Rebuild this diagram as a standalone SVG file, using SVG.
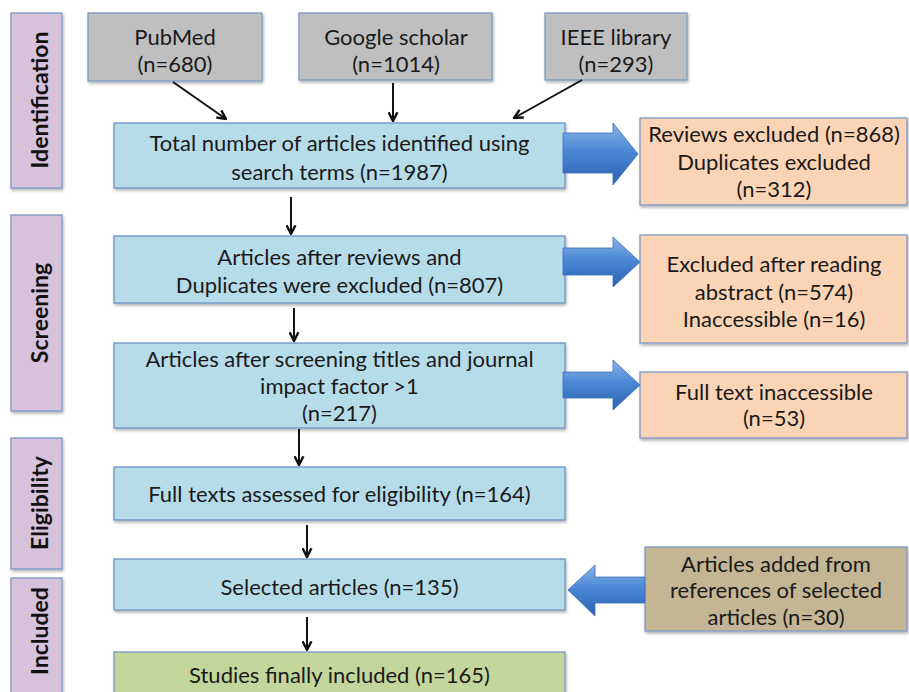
<svg xmlns="http://www.w3.org/2000/svg" width="909" height="692" viewBox="0 0 909 692">
  <defs>
    <style>
      .t { font-family: Lato, "Liberation Sans", sans-serif; font-size: 22px; fill: #1a1a1a; text-anchor: middle; }
      .side { font-family: Lato, "Liberation Sans", sans-serif; font-size: 23px; font-weight: bold; fill: #111; text-anchor: middle; }
      .box { stroke-width: 1.3; filter: url(#shadow); }
      .phase { fill: #d6c2da; stroke: #7b97c6; }
      .src { fill: #bfbfbf; stroke: #7f97c6; }
      .step { fill: #b7dce9; stroke: #6b93c4; }
      .excl { fill: #fbd4b6; stroke: #7f97c6; }
      .added { fill: #c4b694; stroke: #7f97c6; }
      .final { fill: #c3d69b; stroke: #7f97c6; }
      .link { fill: none; stroke: #111; stroke-width: 2; marker-end: url(#head); }
      .big { fill: url(#blueGrad); stroke: #3b6fb8; stroke-width: 0.8; }
    </style>
    <filter id="shadow" x="-5%" y="-5%" width="115%" height="125%">
      <feDropShadow dx="1" dy="2" stdDeviation="1.5" flood-color="#000" flood-opacity="0.3"/>
    </filter>
    <linearGradient id="blueGrad" x1="0" y1="0" x2="0" y2="1">
      <stop offset="0" stop-color="#8ab4e6"/>
      <stop offset="0.45" stop-color="#4a88d4"/>
      <stop offset="1" stop-color="#2a63b3"/>
    </linearGradient>
    <marker id="head" viewBox="0 0 10 10" refX="9" refY="5" markerWidth="5.5" markerHeight="5.5" orient="auto" markerUnits="strokeWidth">
      <path d="M1,1 L9,5 L1,9" fill="none" stroke="#111" stroke-width="2.2"/>
    </marker>
  </defs>

  <!-- phase labels -->
  <g id="phase-identification">
    <rect class="box phase" x="11" y="13" width="51" height="175"/>
    <text class="side" transform="translate(48,100) rotate(-90)">Identification</text>
  </g>
  <g id="phase-screening">
    <rect class="box phase" x="11" y="215" width="51" height="196"/>
    <text class="side" transform="translate(48,313) rotate(-90)">Screening</text>
  </g>
  <g id="phase-eligibility">
    <rect class="box phase" x="11" y="438" width="51" height="131"/>
    <text class="side" transform="translate(48,503) rotate(-90)">Eligibility</text>
  </g>
  <g id="phase-included">
    <rect class="box phase" x="11" y="578" width="51" height="130"/>
    <text class="side" transform="translate(48,631) rotate(-90)">Included</text>
  </g>

  <!-- sources -->
  <g id="src-pubmed">
    <rect class="box src" x="88" y="13" width="174" height="68"/>
    <text class="t" x="175" y="45">PubMed</text>
    <text class="t" x="175" y="72">(n=680)</text>
  </g>
  <g id="src-google">
    <rect class="box src" x="299" y="13" width="193" height="67"/>
    <text class="t" x="396" y="45">Google scholar</text>
    <text class="t" x="396" y="72">(n=1014)</text>
  </g>
  <g id="src-ieee">
    <rect class="box src" x="545" y="13" width="142" height="67"/>
    <text class="t" x="616" y="45">IEEE library</text>
    <text class="t" x="616" y="72">(n=293)</text>
  </g>

  <!-- main flow -->
  <g id="total">
    <rect class="box step" x="114" y="123" width="451" height="65"/>
    <text class="t" x="339.5" y="151">Total number of articles identified using</text>
    <text class="t" x="339.5" y="180">search terms (n=1987)</text>
  </g>
  <g id="after-reviews">
    <rect class="box step" x="114" y="236" width="451" height="67"/>
    <text class="t" x="339.5" y="265">Articles after reviews and</text>
    <text class="t" x="339.5" y="293">Duplicates were excluded (n=807)</text>
  </g>
  <g id="after-screening">
    <rect class="box step" x="114" y="343" width="451" height="85"/>
    <text class="t" x="339.5" y="367">Articles after screening titles and journal</text>
    <text class="t" x="339.5" y="394">impact factor &gt;1</text>
    <text class="t" x="339.5" y="421">(n=217)</text>
  </g>
  <g id="full-texts">
    <rect class="box step" x="114" y="467" width="451" height="53"/>
    <text class="t" x="339.5" y="502">Full texts assessed for eligibility (n=164)</text>
  </g>
  <g id="selected">
    <rect class="box step" x="114" y="559" width="451" height="51"/>
    <text class="t" x="339.5" y="595">Selected articles (n=135)</text>
  </g>
  <g id="final">
    <rect class="box final" x="114" y="652" width="451" height="50"/>
    <text class="t" x="339.5" y="683">Studies finally included (n=165)</text>
  </g>

  <!-- side boxes -->
  <g id="excluded-reviews">
    <rect class="box excl" x="640" y="118" width="267" height="87"/>
    <text class="t" x="774" y="142">Reviews excluded (n=868)</text>
    <text class="t" x="774" y="170">Duplicates excluded</text>
    <text class="t" x="774" y="197">(n=312)</text>
  </g>
  <g id="excluded-abstract">
    <rect class="box excl" x="640" y="235" width="267" height="108"/>
    <text class="t" x="774" y="272">Excluded after reading</text>
    <text class="t" x="774" y="300">abstract (n=574)</text>
    <text class="t" x="774" y="327">Inaccessible (n=16)</text>
  </g>
  <g id="excluded-fulltext">
    <rect class="box excl" x="640" y="372" width="267" height="66"/>
    <text class="t" x="774" y="400">Full text inaccessible</text>
    <text class="t" x="774" y="426">(n=53)</text>
  </g>
  <g id="added-references">
    <rect class="box added" x="645" y="547" width="262" height="84"/>
    <text class="t" x="776" y="572">Articles added from</text>
    <text class="t" x="776" y="598">references of selected</text>
    <text class="t" x="776" y="625">articles (n=30)</text>
  </g>

  <!-- connectors -->
  <g id="connectors">
    <line class="link" x1="173" y1="82" x2="226" y2="119"/>
    <line class="link" x1="393" y1="83" x2="393" y2="121"/>
    <line class="link" x1="582" y1="80" x2="514" y2="118"/>
    <line class="link" x1="291" y1="197" x2="291" y2="234"/>
    <line class="link" x1="294" y1="308" x2="294" y2="341"/>
    <line class="link" x1="299" y1="429" x2="299" y2="465"/>
    <line class="link" x1="307" y1="525" x2="307" y2="557"/>
    <line class="link" x1="307" y1="617" x2="307" y2="650"/>

    <path class="big" d="M563,133 L613,133 L613,123 L638,154 L613,185 L613,173 L563,173 Z"/>
    <path class="big" d="M563,248 L613,248 L613,237 L640,262 L613,287 L613,275 L563,275 Z"/>
    <path class="big" d="M563,372 L613,372 L613,360 L640,385 L613,410 L613,398 L563,398 Z"/>
    <path class="big" d="M645,577 L595,577 L595,565 L568,590 L595,616 L595,603 L645,603 Z"/>
  </g>
</svg>
